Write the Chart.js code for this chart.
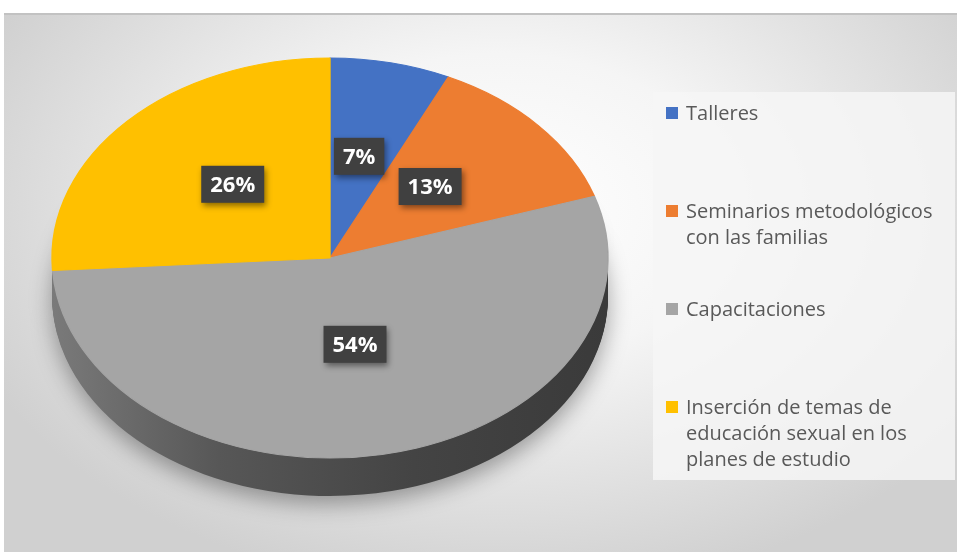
<!DOCTYPE html>
<html>
<head>
<meta charset="utf-8">
<script src="https://cdn.jsdelivr.net/npm/chart.js@4.4.0/dist/chart.umd.min.js"></script>
<style>
  body { margin: 0; background: #fff; width: 957px; height: 552px; overflow: hidden; }
  #frame {
    position: absolute; left: 4px; top: 13px; width: 953px; height: 539px;
    background: radial-gradient(ellipse 60% 72% at 52% 36%, #ffffff 0%, #f5f5f5 40%, #d0d0d0 100%);
    border-top: 2px solid #c2c2c2; box-sizing: border-box;
  }
  #pie { position: absolute; left: 0; top: 0; }
  #legend {
    position: absolute; left: 653px; top: 92px; width: 302px; height: 388px;
    background: rgba(246, 246, 246, 0.85);
    font-family: "Open Sans", sans-serif; font-size: 20px; color: #595959;
  }
  .item { position: absolute; left: 13px; line-height: 26px; white-space: nowrap; }
  .swatch { position: absolute; left: 0; top: 7px; width: 12px; height: 12px; }
  .txt { margin-left: 20px; }
</style>
</head>
<body>
<div id="frame"></div>
<canvas id="pie" width="957" height="552"></canvas>
<div id="legend"></div>
<script>
// Data
const categories = [
  ['Talleres'],
  ['Seminarios metodológicos', 'con las familias'],
  ['Capacitaciones'],
  ['Inserción de temas de', 'educación sexual en los', 'planes de estudio']
];
const percentages = [7, 13, 54, 26];
const sliceColors = ['#4472c4', '#ed7d31', '#a5a5a5', '#ffc000'];

// look of the tilted pie
const PIE_RX = 278, PIE_RY = 200, DEPTH = 38, LABEL_POS = 0.48, LABEL_LIFT = 8;

function pieTransform(ctx, arc) {
  ctx.translate(arc.x, arc.y);
  ctx.scale(PIE_RX / arc.outerRadius, PIE_RY / arc.outerRadius);
  ctx.translate(-arc.x, -arc.y);
}

const tiltPlugin = {
  id: 'tilt',
  beforeDatasetsDraw(chart) {
    const ctx = chart.ctx;
    const arcs = chart.getDatasetMeta(0).data;
    const a0 = arcs[0];
    const R = a0.outerRadius;
    // side wall, drawn bottom up
    for (let d = DEPTH; d >= 1; d--) {
      ctx.save();
      ctx.translate(0, d);
      pieTransform(ctx, a0);
      const g = ctx.createLinearGradient(a0.x - R, 0, a0.x + R, 0);
      g.addColorStop(0, '#7a7a7a');
      g.addColorStop(0.3, '#575757');
      g.addColorStop(0.65, '#444444');
      g.addColorStop(1, '#3a3a3a');
      ctx.fillStyle = g;
      if (d === DEPTH) {
        ctx.shadowColor = 'rgba(0,0,0,0.35)';
        ctx.shadowBlur = 22;
        ctx.shadowOffsetY = 8;
      }
      arcs.forEach(a => {
        ctx.beginPath();
        ctx.moveTo(a.x, a.y);
        ctx.arc(a.x, a.y, R, a.startAngle, a.endAngle);
        ctx.closePath();
        ctx.fill();
      });
      ctx.restore();
    }
    ctx.save();
    pieTransform(ctx, a0);
  },
  afterDatasetsDraw(chart) {
    const ctx = chart.ctx;
    ctx.restore();
    const arcs = chart.getDatasetMeta(0).data;
    ctx.save();
    ctx.font = 'bold 22px "Open Sans"';
    ctx.textAlign = 'center';
    ctx.textBaseline = 'middle';
    arcs.forEach((a, i) => {
      const mid = (a.startAngle + a.endAngle) / 2;
      const px = a.x + Math.cos(mid) * PIE_RX * LABEL_POS;
      const py = a.y + Math.sin(mid) * PIE_RY * LABEL_POS - LABEL_LIFT;
      const text = percentages[i] + '%';
      const w = ctx.measureText(text).width + 18;
      const h = 37;
      ctx.save();
      ctx.shadowColor = 'rgba(0,0,0,0.45)';
      ctx.shadowBlur = 6;
      ctx.shadowOffsetX = 2;
      ctx.shadowOffsetY = 3;
      ctx.fillStyle = '#404040';
      ctx.fillRect(px - w / 2, py - h / 2, w, h);
      ctx.restore();
      ctx.fillStyle = '#ffffff';
      ctx.fillText(text, px, py + 1);
    });
    ctx.restore();
  }
};

new Chart(document.getElementById('pie'), {
  type: 'pie',
  data: {
    labels: categories.map(l => l.join(' ')),
    datasets: [{
      data: percentages,
      backgroundColor: sliceColors,
      borderColor: sliceColors,
      borderWidth: 1
    }]
  },
  options: {
    responsive: false,
    animation: false,
    events: [],
    layout: { padding: { left: 130, right: 427, top: 58, bottom: 94 } },
    plugins: {
      legend: { display: false },
      tooltip: { enabled: false }
    }
  },
  plugins: [tiltPlugin]
});

// legend
const legend = document.getElementById('legend');
categories.forEach((lines, i) => {
  const item = document.createElement('div');
  item.className = 'item';
  item.style.top = (8 + i * 98) + 'px';
  const sw = document.createElement('div');
  sw.className = 'swatch';
  sw.style.background = sliceColors[i];
  item.appendChild(sw);
  const txt = document.createElement('div');
  txt.className = 'txt';
  txt.innerHTML = lines.join('<br>');
  item.appendChild(txt);
  legend.appendChild(item);
});
</script>
</body>
</html>
